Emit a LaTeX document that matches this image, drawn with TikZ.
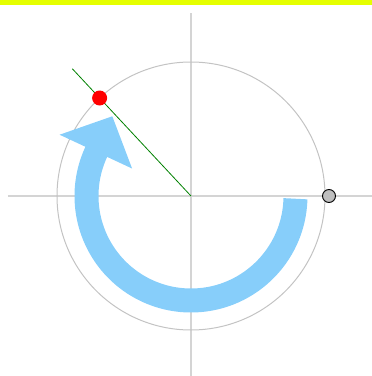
\documentclass[tikz,border=0pt]{standalone}
\usetikzlibrary{calc}
\definecolor{jaune}{RGB}{229,255,0}
\definecolor{bleuciel}{RGB}{135,206,250}
\definecolor{grisaxe}{RGB}{212,212,212}
\definecolor{griscercle}{RGB}{195,195,195}
\definecolor{vert}{RGB}{0,128,0}
\begin{document}
\begin{tikzpicture}[
  x=1pt, y=1pt,
  axe/.style     = {draw=grisaxe, line width=1.5pt},
  cercle/.style  = {draw=griscercle, line width=1pt},
  rayon/.style   = {draw=vert, line width=0.8pt},
  poignee/.style = {circle, fill=red, inner sep=0pt, minimum size=15pt},
  bouton/.style  = {circle, draw=black, fill=gray!50, line width=0.9pt,
                    inner sep=0pt, minimum size=13pt},
  fleche/.style  = {draw=bleuciel, line width=24pt}
]
\useasboundingbox (-191,-180) rectangle (181,196);
\fill[jaune] (-191,191) rectangle (181,196);
\coordinate (o) at (0,0);
\coordinate (g) at (-183,0);
\coordinate (d) at (181,0);
\coordinate (h) at (0,183);
\coordinate (bas) at (0,-180);
\coordinate (bout) at (133:174);
\draw[axe] (g) -- (d);
\draw[axe] (h) -- (bas);
\draw[cercle] (o) circle[radius=134];
% arc bleu et sa pointe
\draw[fleche] (-1.5:104.5) arc[start angle=-1.5, end angle=-205.5, radius=104.5];
\fill[bleuciel] (155:65) -- (155:145) -- ($(155:105)+(65:39)$) -- cycle;
\draw[rayon] (bout) -- (o);
\node[poignee] (p) at (133:134) {};
\node[bouton] (b) at (138,0) {};
\end{tikzpicture}
\end{document}
